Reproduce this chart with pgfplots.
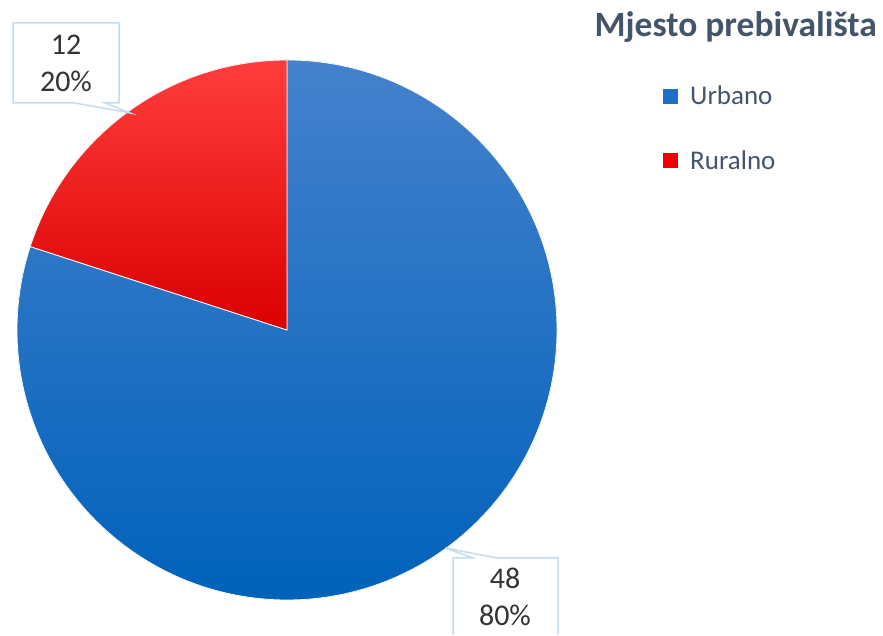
\documentclass[border=0pt]{standalone}
\usepackage{fontspec}
\setmainfont{Carlito}
\usepackage{pgfplots}
\pgfplotsset{compat=1.18}

\definecolor{urbTop}{HTML}{4581CC}
\definecolor{urbMid}{HTML}{0A6FC6}
\definecolor{urbBot}{HTML}{0062BA}
\definecolor{rurTop}{HTML}{FF3D3D}
\definecolor{rurBot}{HTML}{DA0000}
\definecolor{urbLeg}{HTML}{1F6FC8}
\definecolor{rurLeg}{HTML}{F20000}
\definecolor{legText}{HTML}{44546A}
\definecolor{lblText}{HTML}{333333}
\definecolor{callout}{HTML}{C5DCF0}

% values
\def\urbano{48}
\def\ruralno{12}

\begin{document}
\begin{tikzpicture}
\begin{axis}[
  width=883pt, height=635pt, scale only axis,
  xmin=0, xmax=883, ymin=0, ymax=635,
  hide axis, clip=false,
  legend style={at={(axis cs:663,551)}, anchor=north west, draw=none, fill=none,
    font=\fontsize{27}{32}\selectfont, text=legText, row sep=40pt, inner sep=0pt},
  legend cell align=left,
  legend image code/.code={\path[draw=none, fill=none] (0pt,0pt) -- (25pt,0pt);
    \fill[#1, draw=none] (0pt,-7.5pt) rectangle (15pt,7.5pt);},
]
% keep the page the size of the reference
\path (axis cs:0,0) rectangle (axis cs:883,635);

\pgfmathsetmacro\angU{360/(\urbano+\ruralno)*\urbano}
\pgfmathsetmacro\endU{90-\angU}

% Urbano
\fill[top color=urbTop, middle color=urbMid, bottom color=urbBot, draw=white, line width=0.8pt]
  (axis cs:287,305) -- (axis cs:287,575) arc[start angle=90, end angle=\endU, radius=270pt] -- cycle;
% Ruralno
\fill[top color=rurTop, bottom color=rurBot, draw=white, line width=0.8pt]
  (axis cs:287,305) -- (axis cs:287,575) arc[start angle=90, end angle=\endU+360, radius=270pt] -- cycle;

\addlegendimage{fill=urbLeg}
\addlegendentry{Urbano}
\addlegendimage{fill=rurLeg}
\addlegendentry{Ruralno}

\node[anchor=base east, font=\bfseries\fontsize{35.5}{42}\selectfont, text=legText, inner sep=0pt]
  at (axis cs:877,598) {Mjesto prebivališta};

% callout Ruralno
\filldraw[fill=white, draw=callout, line width=1.5pt]
  (axis cs:13,612) -- (axis cs:119,612) -- (axis cs:119,532) -- (axis cs:105,532)
  -- (axis cs:130,522) -- (axis cs:75,532) -- (axis cs:13,532) -- cycle;
\node[align=center, font=\fontsize{30}{37}\selectfont, text=lblText, inner sep=0pt]
  at (axis cs:66,572) {\ruralno\\20\%};

% callout Urbano
\fill[white] (axis cs:453,0) -- (axis cs:453,77) -- (axis cs:473,77) -- (axis cs:445,87)
  -- (axis cs:497,77) -- (axis cs:558,77) -- (axis cs:558,0) -- cycle;
\draw[draw=callout, line width=1.5pt] (axis cs:453,0) -- (axis cs:453,77) -- (axis cs:473,77)
  -- (axis cs:445,87) -- (axis cs:497,77) -- (axis cs:558,77) -- (axis cs:558,0);
\node[align=center, font=\fontsize{30}{37}\selectfont, text=lblText, inner sep=0pt]
  at (axis cs:505,38) {\urbano\\80\%};
\end{axis}
\end{tikzpicture}
\end{document}
